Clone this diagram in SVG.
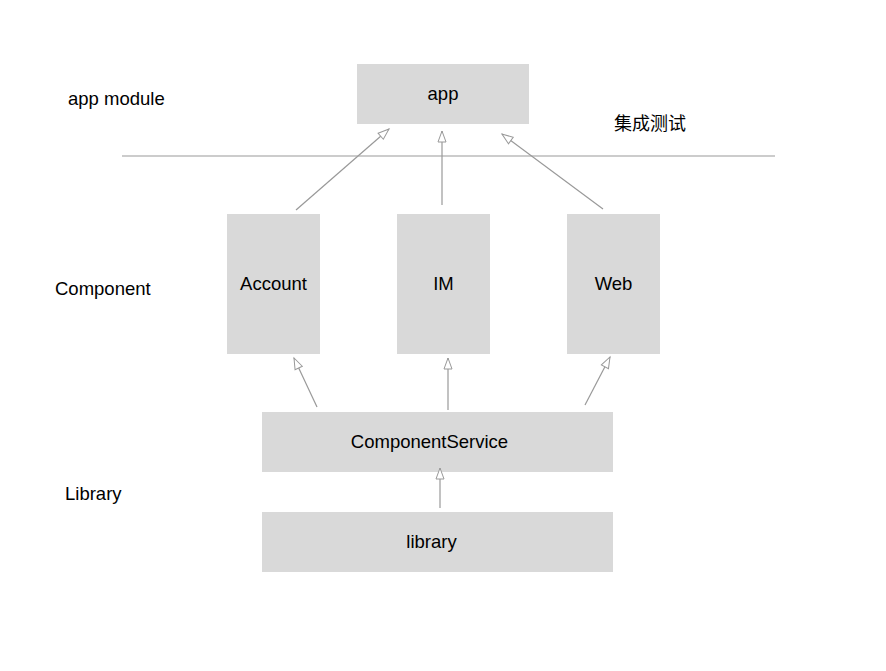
<svg xmlns="http://www.w3.org/2000/svg" width="886" height="671" viewBox="0 0 886 671">
<style>
.box{fill:#d9d9d9;}
.t{font-family:"Liberation Sans",Arial,"Noto Sans CJK SC",sans-serif;font-size:18.5px;fill:#000;}
.c{text-anchor:middle;}
.ln{stroke:#999;stroke-width:1.2;fill:none;}
.ar{stroke:#999;stroke-width:1.2;fill:none;marker-end:url(#ah);}
</style>
<defs>
<marker id="ah" markerUnits="userSpaceOnUse" markerWidth="16" markerHeight="12" refX="12" refY="5" orient="auto">
<path d="M1,1 L12,5 L1,9 Z" fill="#fff" stroke="#999" stroke-width="1"/>
</marker>
</defs>
<rect width="886" height="671" fill="#fff"/>
<g id="labels">
<text class="t" x="68" y="105">app module</text>
<text class="t" x="55" y="295">Component</text>
<text class="t" x="65" y="500">Library</text>
<text class="t" x="614" y="130" style="font-size:18px">集成测试</text>
</g>
<g id="app"><rect class="box" x="357" y="64" width="172" height="60"/><text class="t c" x="443" y="100">app</text></g>
<g id="account"><rect class="box" x="227" y="214" width="93" height="140"/><text class="t c" x="273.5" y="290">Account</text></g>
<g id="im"><rect class="box" x="397" y="214" width="93" height="140"/><text class="t c" x="443.5" y="290">IM</text></g>
<g id="web"><rect class="box" x="567" y="214" width="93" height="140"/><text class="t c" x="613.5" y="290">Web</text></g>
<g id="componentservice"><rect class="box" x="262" y="412" width="351" height="60"/><text class="t c" x="429.5" y="448">ComponentService</text></g>
<g id="library"><rect class="box" x="262" y="512" width="351" height="60"/><text class="t c" x="431.5" y="548">library</text></g>
<g id="connectors">
<line class="ln" x1="122" y1="156" x2="775" y2="156"/>
<line class="ar" x1="296" y1="210" x2="389" y2="129"/>
<line class="ar" x1="442" y1="205" x2="442" y2="131"/>
<line class="ar" x1="603" y1="209" x2="502" y2="134"/>
<line class="ar" x1="317" y1="407" x2="294" y2="358"/>
<line class="ar" x1="448" y1="410" x2="448" y2="358"/>
<line class="ar" x1="585" y1="405" x2="610" y2="357"/>
<line class="ar" x1="440" y1="508" x2="440" y2="468"/>
</g>
</svg>
